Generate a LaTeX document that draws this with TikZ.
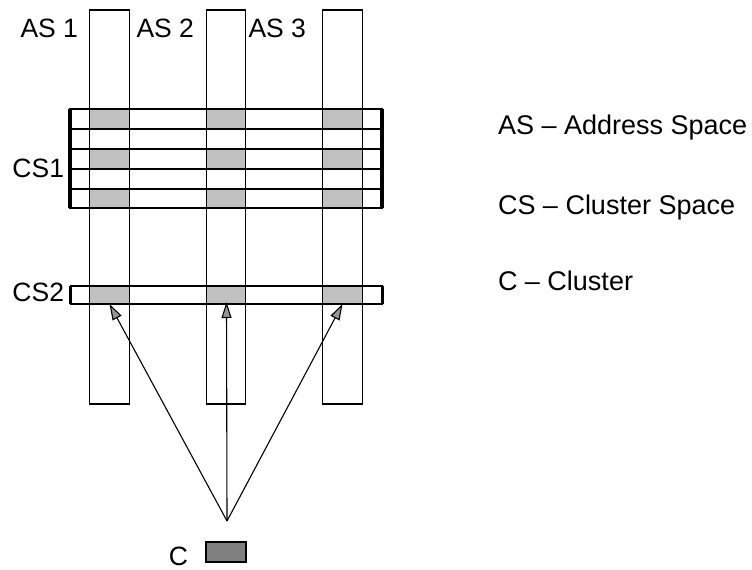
\documentclass[tikz,border=0pt]{standalone}
\usepackage{fontspec}
\setmainfont{Liberation Sans}
\usetikzlibrary{arrows.meta}
\definecolor{cellgray}{RGB}{192,192,192}
\definecolor{cgray}{RGB}{128,128,128}
\definecolor{tipgray}{RGB}{150,150,150}
\begin{document}
\begin{tikzpicture}[x=1pt,y=-1pt,
  lbl/.style={font=\fontsize{26.5}{31}\selectfont, inner sep=0pt, outer sep=0pt},
  key/.style={font=\fontsize{27}{32}\selectfont, inner sep=0pt, outer sep=0pt},
  colbox/.style={draw, line width=1.4pt, rectangle, minimum width=39.5pt, minimum height=394pt, inner sep=0pt, outer sep=0pt},
  cell/.style={fill=cellgray, rectangle, minimum width=39.5pt, minimum height=#1, inner sep=0pt, outer sep=0pt},
  cell/.default=20pt,
  rowbox/.style={draw, line width=1.9pt, rectangle, minimum width=312pt, minimum height=#1, inner sep=0pt, outer sep=0pt},
  rowbox/.default=20pt,
  sideline/.style={line width=3.5pt},
  arr/.style={line width=1.1pt, -{Triangle[length=16pt,width=10pt,fill=tipgray]}},
  cbox/.style={draw, line width=1.4pt, fill=cgray, rectangle, minimum width=40pt, minimum height=20pt, inner sep=0pt, outer sep=0pt}
]
\useasboundingbox (0,0) rectangle (752,570);

% gray cells of CS1 (rows 1,3,5) and CS2
\foreach \i/\x in {1/109.5,2/226,3/342.5}{
  \node[cell] (ca\i) at (\x,119) {};
  \node[cell] (cb\i) at (\x,159) {};
  \node[cell=19.5pt] (cc\i) at (\x,198.5) {};
  \node[cell=18pt] (cs\i) at (\x,295) {};
}

% address space columns
\node[colbox] (as1) at (109.5,207) {};
\node[colbox] (as2) at (226,207) {};
\node[colbox] (as3) at (342.5,207) {};

% cluster space 1: five rows
\node[rowbox] (r1) at (226,119) {};
\node[rowbox] (r2) at (226,139) {};
\node[rowbox] (r3) at (226,159) {};
\node[rowbox] (r4) at (226,179) {};
\node[rowbox=19.5pt] (r5) at (226,198.5) {};
\draw[sideline] (r1.north west) -- (r5.south west);
\draw[sideline] (r1.north east) -- (r5.south east);

% cluster space 2
\node[rowbox=18pt] (cs2) at (226.5,295) {};
\draw[sideline] (cs2.north west) -- (cs2.south west);
\draw[sideline] (cs2.north east) -- (cs2.south east);

% cluster
\node[cbox] (cl) at (226,552) {};
\coordinate (apex) at (227,521);
\draw[arr] (apex) -- (cs1.south);
\draw[arr] (apex) -- ([yshift=2pt]cs2.south);
\draw[arr] (apex) -- (cs3.south);

% labels
\node[lbl, anchor=base east] (l1) at (78,37) {AS 1};
\node[lbl, anchor=base east] (l2) at (194,37) {AS 2};
\node[lbl, anchor=base east] (l3) at (306,37) {AS 3};
\node[lbl, anchor=base east] (lcs1) at (64,177) {CS1};
\node[lbl, anchor=base east] (lcs2) at (64,301) {CS2};
\node[lbl, anchor=base east] (lc) at (188,565) {C};

% legend
\node[key, anchor=base west] (k1) at (498,134) {AS – Address Space};
\node[key, anchor=base west] (k2) at (498,214) {CS – Cluster Space};
\node[key, anchor=base west] (k3) at (498,290) {C – Cluster};
\end{tikzpicture}
\end{document}
